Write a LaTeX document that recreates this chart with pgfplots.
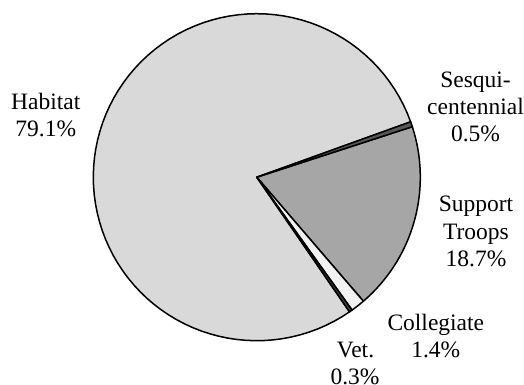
\documentclass[border=0pt]{standalone}
\usepackage{pgfplots}
\pgfplotsset{compat=1.18}
\usepackage{fontspec}
\setmainfont{Liberation Serif}
\definecolor{cHab}{HTML}{D9D9D9}
\definecolor{cSes}{HTML}{595959}
\definecolor{cSup}{HTML}{A6A6A6}
\definecolor{cCol}{HTML}{F2F2F2}
\definecolor{cVet}{HTML}{404040}
% shares (percent), clockwise from start angle
\def\startang{19.8}
\def\sSes{0.5}
\def\sSup{18.7}
\def\sCol{1.4}
\def\sVet{0.3}
\def\sHab{79.1}
\pgfmathsetmacro\aA{\startang}
\pgfmathsetmacro\aB{\aA-3.6*\sSes}
\pgfmathsetmacro\aC{\aB-3.6*\sSup}
\pgfmathsetmacro\aD{\aC-3.6*\sCol}
\pgfmathsetmacro\aE{\aD-3.6*\sVet}
\pgfmathsetmacro\aF{\aE-3.6*\sHab}
\def\cx{256.8}
\def\cy{206.8}
\def\rr{163.5}
\begin{document}
\fontsize{23.5}{27}\selectfont
\begin{tikzpicture}
\useasboundingbox (0,0) rectangle (524pt,384pt);
\begin{axis}[
  at={(0,0)}, anchor=south west,
  width=524pt, height=384pt, scale only axis,
  xmin=0, xmax=524, ymin=0, ymax=384,
  hide axis, clip=false,
  every axis plot/.append style={draw=black, line width=1.5pt, line join=round, samples=90},
]
\addplot[fill=cHab, domain=\aF:\aE] ({\cx+\rr*cos(x)},{\cy+\rr*sin(x)}) -- (axis cs:\cx,\cy) -- cycle;
\addplot[fill=cSup, domain=\aC:\aB] ({\cx+\rr*cos(x)},{\cy+\rr*sin(x)}) -- (axis cs:\cx,\cy) -- cycle;
\addplot[fill=cCol, domain=\aD:\aC, samples=10] ({\cx+\rr*cos(x)},{\cy+\rr*sin(x)}) -- (axis cs:\cx,\cy) -- cycle;
\addplot[fill=cVet, domain=\aE:\aD, samples=5] ({\cx+\rr*cos(x)},{\cy+\rr*sin(x)}) -- (axis cs:\cx,\cy) -- cycle;
\addplot[fill=cSes, domain=\aB:\aA, samples=5] ({\cx+\rr*cos(x)},{\cy+\rr*sin(x)}) -- (axis cs:\cx,\cy) -- cycle;

\node[anchor=base] at (axis cs:45.8,274.7) {Habitat};
\node[anchor=base] at (axis cs:45.8,248) {79.1\%};
\node[anchor=base] at (axis cs:475.5,296.5) {Sesqui-};
\node[anchor=base] at (axis cs:475.5,269.5) {centennial};
\node[anchor=base] at (axis cs:475.5,242.5) {0.5\%};
\node[anchor=base] at (axis cs:476,172.3) {Support};
\node[anchor=base] at (axis cs:476,144.7) {Troops};
\node[anchor=base] at (axis cs:476,117.3) {18.7\%};
\node[anchor=base] at (axis cs:435.8,54) {Collegiate};
\node[anchor=base] at (axis cs:435.8,26.7) {1.4\%};
\node[anchor=base] at (axis cs:355.5,26.7) {Vet.};
\node[anchor=base] at (axis cs:355,-0.3) {0.3\%};
\end{axis}
\end{tikzpicture}
\end{document}
